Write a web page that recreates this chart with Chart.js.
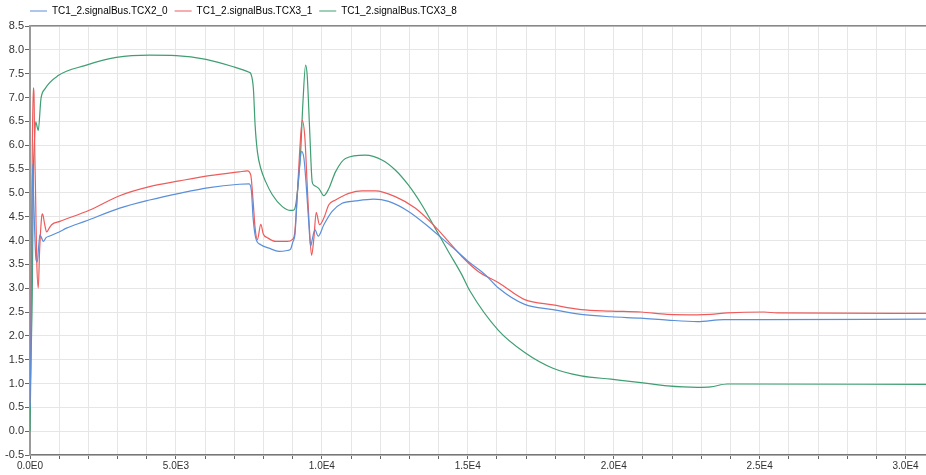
<!DOCTYPE html>
<html>
<head>
<meta charset="utf-8">
<script src="https://cdn.jsdelivr.net/npm/chart.js@4.4.1/dist/chart.umd.min.js"></script>
<style>
  html, body { margin: 0; padding: 0; background: #fff; }
  #wrap { width: 926px; height: 475px; position: relative; }
</style>
</head>
<body>
<div id="wrap"><canvas id="c"></canvas></div>
<script>
// series names (legend order)
const seriesNames = ["TC1_2.signalBus.TCX2_0", "TC1_2.signalBus.TCX3_1", "TC1_2.signalBus.TCX3_8"];
const seriesColors = ["#5b8fd9", "#ef5b5b", "#3f9e72"];

// TCX2_0 (blue)
const tcx20T = [0, 20, 50, 75, 95, 120, 160, 205, 250, 300, 340, 400, 455, 550, 700, 1000, 1250, 1877, 3072, 4096, 5119, 6143, 7167, 7508, 7588, 7645, 7736, 7908, 8191, 8532, 8817, 8930, 9010, 9078, 9158, 9239, 9307, 9386, 9464, 9556, 9614, 9670, 9761, 9874, 10068, 10352, 10694, 11150, 11775, 12287, 12969, 13652, 14106, 14563, 15017, 15587, 16041, 16951, 17918, 18884, 19909, 20932, 21843, 22867, 23778, 25000, 30700];
const tcx20V = [0.5, 1.3, 3.0, 5.0, 5.6, 5.0, 4.2, 3.6, 3.55, 3.9, 4.12, 4.05, 3.98, 4.06, 4.10, 4.18, 4.26, 4.40, 4.68, 4.85, 4.99, 5.11, 5.18, 5.19, 5.03, 4.47, 4.05, 3.91, 3.84, 3.77, 3.79, 3.82, 3.98, 4.12, 4.96, 5.58, 5.87, 5.72, 5.16, 4.33, 3.88, 4.02, 4.23, 4.09, 4.33, 4.61, 4.78, 4.83, 4.87, 4.82, 4.61, 4.29, 4.05, 3.81, 3.56, 3.29, 3.01, 2.66, 2.55, 2.45, 2.40, 2.37, 2.33, 2.30, 2.34, 2.34, 2.35];

// TCX3_1 (red)
const tcx31T = [0, 20, 50, 80, 113, 135, 160, 190, 230, 283, 330, 400, 430, 500, 570, 650, 740, 1024, 2048, 3072, 4096, 5119, 6143, 7167, 7451, 7565, 7645, 7713, 7792, 7908, 7997, 8133, 8420, 8817, 8987, 9068, 9158, 9239, 9328, 9420, 9498, 9580, 9648, 9727, 9806, 9922, 10068, 10239, 10467, 10808, 10922, 11375, 11833, 12515, 13198, 13880, 14334, 14788, 15358, 16041, 16951, 17918, 18884, 19909, 20932, 21843, 22867, 23321, 23891, 25143, 25600, 30700];
const tcx31V = [0.6, 1.2, 3.5, 6.0, 7.2, 7.1, 6.0, 5.0, 3.6, 3.0, 3.8, 4.5, 4.56, 4.35, 4.18, 4.25, 4.33, 4.40, 4.64, 4.94, 5.13, 5.25, 5.36, 5.44, 5.46, 5.37, 4.82, 4.26, 4.02, 4.34, 4.13, 4.06, 3.98, 3.98, 4.02, 4.15, 4.96, 5.86, 6.52, 6.14, 5.16, 4.19, 3.69, 4.05, 4.59, 4.33, 4.47, 4.75, 4.85, 4.96, 4.99, 5.04, 5.04, 4.92, 4.68, 4.29, 3.98, 3.67, 3.35, 3.12, 2.76, 2.65, 2.55, 2.52, 2.50, 2.45, 2.44, 2.45, 2.48, 2.50, 2.48, 2.47];

// TCX3_8 (green)
const tcx38T = [0, 34, 78, 113, 147, 195, 283, 375, 512, 966, 1877, 2959, 4096, 5006, 6030, 6940, 7508, 7566, 7655, 7713, 7792, 7908, 8078, 8303, 8645, 8931, 9044, 9123, 9273, 9352, 9443, 9498, 9580, 9669, 9727, 9898, 10068, 10239, 10467, 10808, 11491, 12058, 12515, 12969, 13423, 13880, 14334, 14788, 15075, 16041, 16951, 17918, 18884, 19909, 20932, 21843, 22867, 23321, 23891, 30700];
const tcx38V = [0.0, 1.48, 2.87, 5.30, 6.0, 6.49, 6.31, 6.97, 7.18, 7.46, 7.67, 7.84, 7.89, 7.88, 7.80, 7.65, 7.53, 7.50, 7.18, 6.42, 5.86, 5.51, 5.23, 4.96, 4.71, 4.63, 4.64, 4.82, 5.86, 6.90, 7.68, 7.46, 6.35, 5.23, 5.16, 5.09, 4.94, 5.09, 5.44, 5.72, 5.79, 5.69, 5.48, 5.16, 4.75, 4.26, 3.77, 3.29, 2.94, 2.12, 1.65, 1.32, 1.16, 1.09, 1.02, 0.95, 0.92, 0.93, 0.99, 0.98];

// axes
const xMin = 0, xMax = 30700, xStep = 1000, xLabelEvery = 5000;
const yMin = -0.5, yMax = 8.5, yStep = 0.5;

// x grid every 1000, labels every 5000
const xTicks = [];
for (let v = xMin; v <= xMax; v += xStep) xTicks.push(v);

function pts(ts, vs) {
  return ts.map((t, i) => ({ x: t, y: vs[i] }));
}

function fmtExp(v) {
  // 5000 -> "5.0E3", 0 -> "0.0E0"
  return Number(v).toExponential(1).toUpperCase().replace("+", "");
}

function xLabel(v) {
  return v % xLabelEvery === 0 ? fmtExp(v) : "";
}

const allT = [tcx20T, tcx31T, tcx38T];
const allV = [tcx20V, tcx31V, tcx38V];

// legend starts aligned with the plot's left edge
const legendShift = {
  id: "legendShift",
  afterLayout(chart) {
    const lg = chart.legend;
    const d = chart.chartArea.left - lg.options.labels.padding - lg.left;
    lg.left += d;
    lg.right += d;
  }
};

Chart.defaults.font.family = "'Liberation Sans', Arial, sans-serif";
Chart.defaults.color = "#333";

const setXTicks = (s) => { s.ticks = xTicks.map((v) => ({ value: v })); };

new Chart(document.getElementById("c"), {
  type: "line",
  data: {
    datasets: seriesNames.map((name, i) => ({
      label: name,
      data: pts(allT[i], allV[i]),
      borderColor: seriesColors[i],
      backgroundColor: seriesColors[i],
      borderWidth: 1.2,
      pointRadius: 0,
      fill: false,
      cubicInterpolationMode: "monotone",
    })),
  },
  options: {
    responsive: true,
    maintainAspectRatio: false,
    animation: false,
    layout: { padding: { top: -1, right: 0, bottom: 0, left: 0 } },
    scales: {
      x: {
        type: "linear",
        min: xMin,
        max: xMax,
        afterBuildTicks: setXTicks,
        grid: { color: "#e6e6e6", lineWidth: 1, tickLength: 4, tickColor: "#666" },
        border: { color: "#777", width: 1.5 },
        ticks: {
          autoSkip: false,
          maxRotation: 0,
          minRotation: 0,
          padding: 1,
          font: { size: 10 },
          color: "#333",
          callback: (v) => xLabel(v),
        },
        afterFit: (s) => { s.height = 20; },
      },
      xTop: {
        type: "linear",
        position: "top",
        min: xMin,
        max: xMax,
        afterBuildTicks: setXTicks,
        grid: { drawOnChartArea: false, drawTicks: false },
        border: { color: "#888", width: 1.5 },
        ticks: { display: false },
      },
      y: {
        min: yMin,
        max: yMax,
        grid: { color: "#e6e6e6", lineWidth: 1, tickLength: 5, tickColor: "#666" },
        border: { color: "#9a9a9a", width: 2 },
        ticks: {
          stepSize: yStep,
          padding: 1,
          font: { size: 11 },
          color: "#333",
          callback: (v) => Number(v).toFixed(1),
        },
        afterFit: (s) => { s.width = 30; },
      },
    },
    plugins: {
      legend: {
        position: "top",
        align: "start",
        labels: {
          boxWidth: 17,
          boxHeight: 1,
          padding: 7,
          font: { size: 10 },
          color: "#333",
          generateLabels: (chart) =>
            chart.data.datasets.map((ds, i) => ({
              text: ds.label,
              fillStyle: ds.borderColor,
              strokeStyle: ds.borderColor,
              lineWidth: 0,
              hidden: false,
              datasetIndex: i,
            })),
        },
      },
      tooltip: { enabled: false },
    },
  },
  plugins: [legendShift],
});
</script>
</body>
</html>
